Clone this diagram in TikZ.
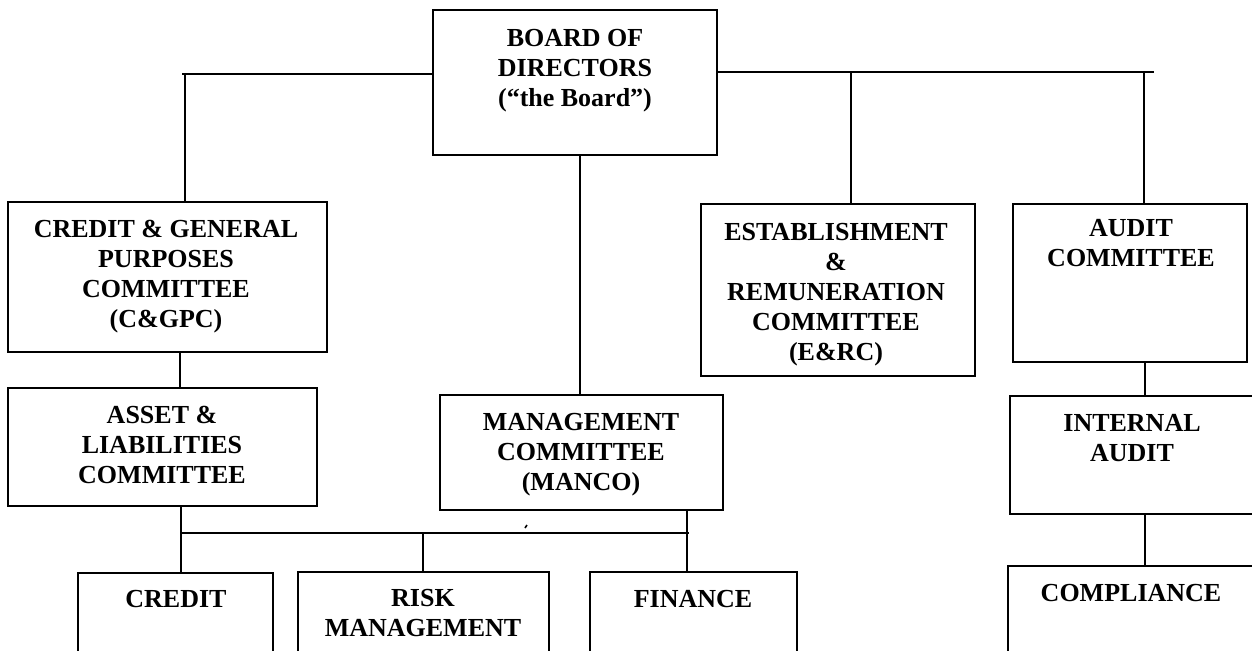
\documentclass[tikz,border=0pt]{standalone}
\usepackage{fontspec}
\setmainfont{Liberation Serif}
\usetikzlibrary{fit,calc}
\begin{document}
\begin{tikzpicture}[x=0.75pt,y=-0.75pt,
  bx/.style={draw=black, line width=1.4pt, inner sep=0pt, rectangle},
  txt/.style={align=center, font=\fontsize{19.5pt}{22.5pt}\selectfont\bfseries, inner sep=0pt},
  ln/.style={line width=1.3pt, line cap=rect}]
\useasboundingbox (0,0) rectangle (1252,650);
\fill[white] (0,0) rectangle (1252,650);
\clip (0,0) rectangle (1252,650);
% boxes
\node[bx, fit={(433,10)(717,155)}] (board) {};
\node[bx, fit={(8,202)(327,352)}] (cgpc) {};
\node[bx, fit={(8,388)(317,506)}] (alco) {};
\node[bx, fit={(440,395)(723,510)}] (manco) {};
\node[bx, fit={(701,204)(975,376)}] (erc) {};
\node[bx, fit={(1013,204)(1247,362)}] (audc) {};
\node[bx, fit={(1010,396)(1258,514)}] (ia) {};
\node[bx, fit={(1008,566)(1258,670)}] (comp) {};
\node[bx, fit={(78,573)(273,670)}] (credit) {};
\node[bx, fit={(298,572)(549,670)}] (risk) {};
\node[bx, fit={(590,572)(797,670)}] (fin) {};
% texts
\node[txt] (boardT) at (575,71) {BOARD OF\\DIRECTORS\\(“the Board”)};
\node[txt] (cgpcT) at (166,277) {CREDIT \& GENERAL\\PURPOSES\\COMMITTEE\\(C\&GPC)};
\node[txt] (alcoT) at (162,445) {ASSET \&\\LIABILITIES\\COMMITTEE};
\node[txt] (mancoT) at (581,455) {MANAGEMENT\\COMMITTEE\\(MANCO)};
\node[txt] (ercT) at (836,295) {ESTABLISHMENT\\\&\\REMUNERATION\\COMMITTEE\\(E\&RC)};
\node[txt] (audcT) at (1131,243) {AUDIT\\COMMITTEE};
\node[txt] (iaT) at (1132,438) {INTERNAL\\AUDIT};
\node[txt] (compT) at (1131,593) {COMPLIANCE};
\node[txt] (creditT) at (176,599) {CREDIT};
\node[txt] (riskT) at (423,613) {RISK\\MANAGEMENT};
\node[txt] (finT) at (693,599) {FINANCE};
% connectors
\coordinate (hl) at (183,74);
\draw[ln] (hl) -- (hl -| board.west);
\coordinate (jl) at (185,74);
\draw[ln] (jl) -- (jl |- cgpc.north);
\coordinate (hr) at (1153,72);
\draw[ln] (board.east |- hr) -- (hr);
\coordinate (je) at (851,72);
\draw[ln] (je) -- (je |- erc.north);
\coordinate (ja) at (1144,72);
\draw[ln] (ja) -- (ja |- audc.north);
\coordinate (jb) at (580,0);
\draw[ln] (jb |- board.south) -- (jb |- manco.north);
\coordinate (jc) at (180,0);
\draw[ln] (jc |- cgpc.south) -- (jc |- alco.north);
\coordinate (bl) at (181,533);
\coordinate (br) at (688,533);
\draw[ln] (bl |- alco.south) -- (bl) -- (br);
\draw[ln] (bl) -- (bl |- credit.north);
\coordinate (jr) at (423,533);
\draw[ln] (jr) -- (jr |- risk.north);
\coordinate (jm) at (687,0);
\draw[ln] (jm |- manco.south) -- (jm |- fin.north);
\coordinate (jx) at (1145,0);
\draw[ln] (jx |- audc.south) -- (jx |- ia.north);
\draw[ln] (jx |- ia.south) -- (jx |- comp.north);
% stray mark
\coordinate (tk) at (525,528);
\draw[line width=1.2pt] (tk) -- ++(2,-3);
\end{tikzpicture}
\end{document}
